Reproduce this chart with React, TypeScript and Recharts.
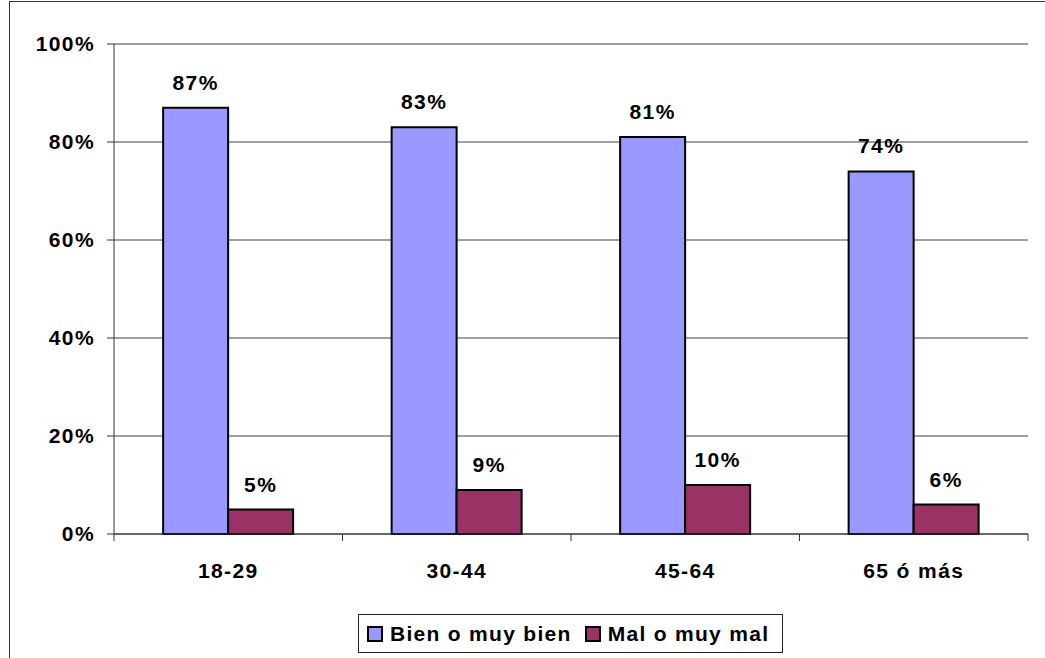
import { Bar, BarChart, CartesianGrid, LabelList, Legend, XAxis, YAxis } from 'recharts'

const categories = ['18-29', '30-44', '45-64', '65 ó más']
const bienValues = [87, 83, 81, 74]
const malValues = [5, 9, 10, 6]
const yTicks = [0, 20, 40, 60, 80, 100]

const SERIES = [
    { key: 'bien', name: 'Bien o muy bien', color: '#9999ff' },
    { key: 'mal', name: 'Mal o muy mal', color: '#993366' },
]

const data = categories.map((cat, i) => ({
    cat,
    bien: bienValues[i],
    mal: malValues[i],
}))

const FONT = 'Arial, "Liberation Sans", sans-serif'
const TEXT = {
    fill: '#000',
    fontSize: 21,
    fontWeight: 'bold',
    fontFamily: FONT,
    letterSpacing: 1.4,
}

const pct = (v: number) => `${v}%`

// category label plus the small tick marks at the band edges
const CategoryTick = (props: any) => {
    const { x, y, payload, index, visibleTicksCount } = props
    const half = payload?.offset ?? 0
    const last = index === (visibleTicksCount ?? categories.length) - 1
    return (
        <g>
            <line x1={x - half} x2={x - half} y1={y} y2={y + 7} stroke="#333" />
            {last && (
                <line x1={x + half} x2={x + half} y1={y} y2={y + 7} stroke="#333" />
            )}
            <text x={x} y={y + 38} textAnchor="middle" dominantBaseline="middle" {...TEXT}>
                {payload.value}
            </text>
        </g>
    )
}

const LegendBox = () => (
    <div
        style={{
            display: 'flex',
            alignItems: 'center',
            boxSizing: 'border-box',
            width: 425,
            height: 39,
            border: '1px solid #222',
            background: '#fff',
            paddingLeft: 8,
            fontFamily: FONT,
            fontWeight: 'bold',
            fontSize: 21,
            letterSpacing: 1.3,
            whiteSpace: 'nowrap',
            color: '#000',
        }}
    >
        {SERIES.map((s) => (
            <span
                key={s.key}
                style={{ display: 'flex', alignItems: 'center', marginRight: 13, flexShrink: 0 }}
            >
                <span
                    style={{
                        display: 'inline-block',
                        boxSizing: 'border-box',
                        width: 16,
                        height: 16,
                        background: s.color,
                        border: '2px solid #000',
                        marginRight: 7,
                    }}
                />
                {s.name}
            </span>
        ))}
    </div>
)

export default function App() {
    return (
        <div
            style={{
                position: 'absolute',
                left: 0,
                top: 0,
                width: 1045,
                height: 658,
                overflow: 'hidden',
                background: '#fff',
            }}
        >
            {/* outer frame, runs off the right and bottom edge */}
            <div
                style={{
                    position: 'absolute',
                    left: 9,
                    top: 1,
                    width: 1100,
                    height: 700,
                    border: '1px solid #333',
                }}
            />
            <BarChart
                width={1045}
                height={658}
                data={data}
                margin={{ top: 44, right: 17, bottom: 5, left: 0 }}
                barCategoryGap="21.5%"
                barGap={0}
                style={{ position: 'absolute', left: 0, top: 0 }}
            >
                <CartesianGrid vertical={false} stroke="#404040" />
                <XAxis
                    dataKey="cat"
                    height={80}
                    stroke="#333"
                    tickLine={false}
                    tickSize={0}
                    tickMargin={0}
                    tick={<CategoryTick />}
                />
                <YAxis
                    width={114}
                    domain={[0, 100]}
                    ticks={yTicks}
                    tickFormatter={pct}
                    stroke="#333"
                    tickSize={7}
                    tick={{ ...TEXT, dx: -10 }}
                />
                {/* right edge of the plot area */}
                <YAxis
                    yAxisId="edge"
                    orientation="right"
                    width={0}
                    domain={[0, 100]}
                    tick={false}
                    tickLine={false}
                    stroke="#000"
                />
                <Legend
                    content={<LegendBox />}
                    wrapperStyle={{ left: 358, width: 425 }}
                    height={39}
                />
                {SERIES.map((s) => (
                    <Bar
                        key={s.key}
                        dataKey={s.key}
                        name={s.name}
                        fill={s.color}
                        stroke="#000"
                        strokeWidth={2}
                        isAnimationActive={false}
                    >
                        <LabelList
                            dataKey={s.key}
                            position="top"
                            offset={18}
                            formatter={(v: any) => pct(v)}
                            style={TEXT}
                        />
                    </Bar>
                ))}
            </BarChart>
        </div>
    )
}
